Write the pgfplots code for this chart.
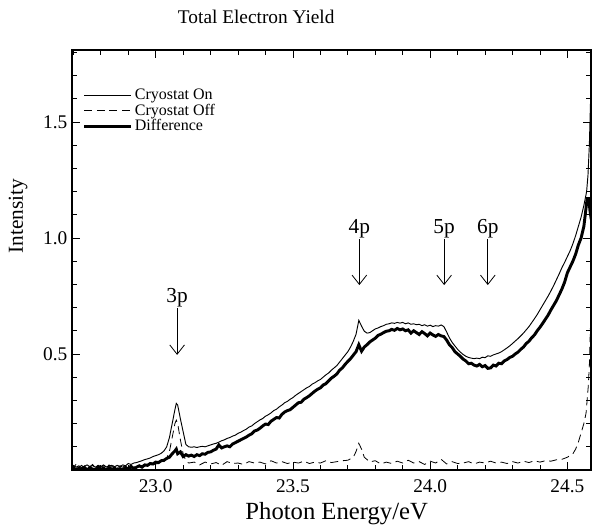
\documentclass[border=0pt]{standalone}
\usepackage{fontspec}
\setmainfont{Liberation Serif}
\usepackage{pgfplots}
\pgfplotsset{compat=1.18}
\usetikzlibrary{arrows.meta}

\begin{document}
\begin{tikzpicture}
\begin{axis}[
    scale only axis,
    width=389.25pt, height=315pt,
    xmin=22.695, xmax=24.586,
    ymin=0, ymax=1.81,
    axis line style={line width=0.9pt},
    tick align=inside,
    xtick={23,23.5,24,24.5},
    xticklabels={23.0,23.5,24.0,24.5},
    ytick={0.5,1,1.5},
    yticklabels={0.5,1.0,1.5},
    minor xtick={22.7,22.8,22.9,23.1,23.2,23.3,23.4,23.6,23.7,23.8,23.9,24.1,24.2,24.3,24.4},
    minor ytick={0.1,0.2,0.3,0.4,0.6,0.7,0.8,0.9,1.1,1.2,1.3,1.4,1.6,1.7,1.8},
    major tick length=6pt, minor tick length=3.5pt,
    every tick/.style={black, line width=0.6pt},
    ticklabel style={font=\fontsize{14.5}{16}\selectfont},
    xticklabel style={yshift=-3.5pt},
    every axis title shift=0pt,
    title={Total Electron Yield},
    title style={font=\fontsize{14.5}{17}\selectfont, at={(axis description cs:0.355,1.062)}, anchor=base},
    xlabel={Photon Energy/eV},
    xlabel style={font=\fontsize{18.5}{21}\selectfont, at={(axis description cs:0.51,-0.119)}, anchor=base},
    ylabel={Intensity},
    ylabel style={font=\fontsize{16}{19}\selectfont, at={(axis description cs:-0.104,0.605)}, anchor=center},
    legend style={at={(axis description cs:0.02,0.914)}, anchor=north west, draw=none, fill=none,
        font=\fontsize{12}{13}\selectfont, row sep=-2.3pt, inner sep=0pt},
    legend cell align=left,
    legend image code/.code={\draw[#1] (0pt,0pt) -- (35pt,0pt);},
]

% Cryostat On
\addplot[black, line width=0.7pt] coordinates {
(22.69,0.015) (22.70,0.020) (22.71,0.012) (22.72,0.018) (22.73,0.010) (22.74,0.016)
(22.75,0.022) (22.76,0.014) (22.77,0.019) (22.78,0.012) (22.79,0.020) (22.80,0.015)
(22.81,0.022) (22.82,0.013) (22.83,0.018) (22.84,0.020) (22.85,0.014) (22.86,0.020)
(22.87,0.015) (22.88,0.022) (22.89,0.018) (22.90,0.028) (22.91,0.024) (22.92,0.030)
(22.93,0.032) (22.94,0.036) (22.95,0.040) (22.96,0.045) (22.97,0.048) (22.98,0.052)
(22.99,0.058) (23.00,0.062) (23.01,0.066) (23.02,0.072) (23.03,0.082) (23.04,0.100)
(23.05,0.140) (23.06,0.200) (23.07,0.260) (23.075,0.287) (23.08,0.280) (23.09,0.220)
(23.10,0.165) (23.11,0.110) (23.12,0.100) (23.13,0.098) (23.14,0.100) (23.15,0.097)
(23.16,0.100) (23.17,0.102) (23.18,0.100) (23.19,0.104) (23.20,0.108) (23.21,0.112)
(23.22,0.115) (23.23,0.120) (23.24,0.126) (23.25,0.130) (23.26,0.136) (23.27,0.140)
(23.28,0.146) (23.29,0.150) (23.30,0.158) (23.31,0.163) (23.32,0.170) (23.33,0.176)
(23.34,0.185) (23.35,0.190) (23.36,0.200) (23.37,0.208) (23.38,0.216) (23.39,0.222)
(23.40,0.232) (23.41,0.238) (23.42,0.246) (23.43,0.256) (23.44,0.262) (23.45,0.272)
(23.46,0.280) (23.47,0.290) (23.48,0.296) (23.49,0.305) (23.50,0.312) (23.51,0.322)
(23.52,0.330) (23.53,0.338) (23.54,0.346) (23.55,0.354) (23.56,0.360) (23.57,0.370)
(23.58,0.376) (23.59,0.384) (23.60,0.390) (23.61,0.400) (23.62,0.410) (23.63,0.418)
(23.64,0.430) (23.65,0.440) (23.66,0.450) (23.67,0.465) (23.68,0.480) (23.69,0.495)
(23.70,0.510) (23.71,0.530) (23.72,0.555) (23.73,0.585) (23.74,0.645) (23.75,0.620)
(23.76,0.598) (23.77,0.590) (23.78,0.592) (23.79,0.600) (23.80,0.608) (23.81,0.612)
(23.82,0.618) (23.83,0.622) (23.84,0.628) (23.85,0.630) (23.86,0.634) (23.87,0.632)
(23.88,0.636) (23.89,0.633) (23.90,0.636) (23.91,0.630) (23.92,0.634) (23.93,0.628)
(23.94,0.630) (23.95,0.626) (23.96,0.628) (23.97,0.622) (23.98,0.626) (23.99,0.620)
(24.00,0.624) (24.01,0.618) (24.02,0.622) (24.03,0.620) (24.04,0.625) (24.05,0.618)
(24.06,0.595) (24.07,0.570) (24.08,0.550) (24.09,0.535) (24.10,0.520) (24.11,0.508)
(24.12,0.498) (24.13,0.490) (24.14,0.485) (24.15,0.482) (24.16,0.480) (24.17,0.482)
(24.18,0.480) (24.19,0.486) (24.20,0.484) (24.21,0.492) (24.22,0.490) (24.23,0.496)
(24.24,0.500) (24.25,0.504) (24.26,0.510) (24.27,0.518) (24.28,0.526) (24.29,0.535)
(24.30,0.545) (24.31,0.556) (24.32,0.566) (24.33,0.578) (24.34,0.590) (24.35,0.604)
(24.36,0.618) (24.37,0.635) (24.38,0.652) (24.39,0.670) (24.40,0.690) (24.41,0.710)
(24.42,0.730) (24.43,0.750) (24.44,0.772) (24.45,0.795) (24.46,0.820) (24.47,0.845)
(24.48,0.872) (24.49,0.895) (24.50,0.920) (24.51,0.945) (24.52,0.975) (24.53,1.010)
(24.54,1.050) (24.55,1.090) (24.56,1.140) (24.57,1.200) (24.575,1.270) (24.58,1.400)
(24.585,1.620) (24.59,1.850)
};
\addlegendentry{Cryostat On}

% Cryostat Off
\addplot[black, line width=0.6pt, dash pattern=on 6pt off 3.5pt] coordinates {
(22.69,0.020) (22.70,0.010) (22.71,0.025) (22.72,0.012) (22.73,0.020) (22.74,0.008)
(22.75,0.022) (22.76,0.014) (22.77,0.024) (22.78,0.010) (22.79,0.020) (22.80,0.012)
(22.81,0.018) (22.82,0.008) (22.83,0.022) (22.84,0.012) (22.85,0.020) (22.86,0.010)
(22.87,0.018) (22.88,0.012) (22.89,0.022) (22.90,0.015) (22.91,0.020) (22.92,0.012)
(22.93,0.018) (22.94,0.014) (22.95,0.020) (22.96,0.018) (22.97,0.022) (22.98,0.020)
(22.99,0.024) (23.00,0.026) (23.01,0.028) (23.02,0.030) (23.03,0.036) (23.04,0.050)
(23.05,0.080) (23.06,0.140) (23.07,0.200) (23.075,0.215) (23.08,0.200) (23.09,0.130)
(23.10,0.070) (23.11,0.040) (23.12,0.030) (23.14,0.034) (23.16,0.022) (23.18,0.034)
(23.20,0.026) (23.22,0.032) (23.24,0.020) (23.26,0.036) (23.28,0.028) (23.30,0.030)
(23.32,0.024) (23.34,0.036) (23.36,0.030) (23.38,0.034) (23.40,0.026) (23.42,0.040)
(23.44,0.030) (23.46,0.036) (23.48,0.028) (23.50,0.034) (23.52,0.030) (23.54,0.038)
(23.56,0.028) (23.58,0.034) (23.60,0.030) (23.62,0.040) (23.64,0.032) (23.66,0.036)
(23.68,0.040) (23.70,0.042) (23.72,0.055) (23.73,0.080) (23.74,0.115) (23.75,0.090)
(23.76,0.055) (23.78,0.035) (23.80,0.040) (23.82,0.026) (23.84,0.034) (23.86,0.028)
(23.88,0.038) (23.90,0.030) (23.92,0.042) (23.94,0.030) (23.96,0.036) (23.98,0.024)
(24.00,0.038) (24.02,0.030) (24.04,0.046) (24.06,0.026) (24.08,0.036) (24.10,0.028)
(24.12,0.030) (24.14,0.036) (24.16,0.026) (24.18,0.034) (24.20,0.030) (24.22,0.038)
(24.24,0.030) (24.26,0.034) (24.28,0.028) (24.30,0.036) (24.32,0.030) (24.34,0.038)
(24.36,0.032) (24.38,0.040) (24.40,0.034) (24.42,0.040) (24.44,0.038) (24.46,0.044)
(24.48,0.046) (24.50,0.055) (24.52,0.070) (24.53,0.090) (24.54,0.120) (24.55,0.160)
(24.56,0.200) (24.568,0.245) (24.576,0.360) (24.58,0.450) (24.584,0.620) (24.588,0.750)
};
\addlegendentry{Cryostat Off}

% Difference
\addplot[black, line width=2.2pt] coordinates {
(22.69,0.005) (22.70,0.010) (22.71,0.000) (22.72,0.008) (22.73,0.002) (22.74,0.012)
(22.75,0.000) (22.76,0.010) (22.77,0.004) (22.78,0.000) (22.79,0.012) (22.80,0.003)
(22.81,0.008) (22.82,0.000) (22.83,0.010) (22.84,0.002) (22.85,0.008) (22.86,0.000)
(22.87,0.006) (22.88,0.000) (22.89,0.012) (22.90,0.002) (22.91,0.015) (22.92,0.004)
(22.93,0.012) (22.94,0.018) (22.95,0.012) (22.96,0.022) (22.97,0.020) (22.98,0.028)
(22.99,0.026) (23.00,0.034) (23.01,0.032) (23.02,0.040) (23.03,0.042) (23.04,0.050)
(23.05,0.055) (23.06,0.070) (23.07,0.082) (23.075,0.090) (23.08,0.070) (23.09,0.078)
(23.10,0.058) (23.11,0.066) (23.12,0.060) (23.13,0.064) (23.14,0.058) (23.15,0.066)
(23.16,0.062) (23.17,0.070) (23.18,0.068) (23.19,0.076) (23.20,0.078) (23.21,0.085)
(23.22,0.090) (23.23,0.108) (23.24,0.095) (23.25,0.100) (23.26,0.104) (23.27,0.100)
(23.28,0.112) (23.29,0.118) (23.30,0.124) (23.31,0.130) (23.32,0.136) (23.33,0.142)
(23.34,0.150) (23.35,0.156) (23.36,0.168) (23.37,0.172) (23.38,0.180) (23.39,0.190)
(23.40,0.198) (23.41,0.196) (23.42,0.210) (23.43,0.218) (23.44,0.226) (23.45,0.224)
(23.46,0.240) (23.47,0.250) (23.48,0.256) (23.49,0.260) (23.50,0.270) (23.51,0.280)
(23.52,0.290) (23.53,0.292) (23.54,0.305) (23.55,0.312) (23.56,0.320) (23.57,0.330)
(23.58,0.340) (23.59,0.348) (23.60,0.354) (23.61,0.366) (23.62,0.372) (23.63,0.384)
(23.64,0.396) (23.65,0.404) (23.66,0.414) (23.67,0.430) (23.68,0.440) (23.69,0.455)
(23.70,0.468) (23.71,0.480) (23.72,0.495) (23.73,0.510) (23.74,0.540) (23.75,0.512)
(23.76,0.530) (23.77,0.540) (23.78,0.552) (23.79,0.560) (23.80,0.568) (23.81,0.580)
(23.82,0.585) (23.83,0.592) (23.84,0.598) (23.85,0.600) (23.86,0.606) (23.87,0.602)
(23.88,0.610) (23.89,0.604) (23.90,0.608) (23.91,0.600) (23.92,0.604) (23.93,0.590)
(23.94,0.600) (23.95,0.592) (23.96,0.584) (23.97,0.596) (23.98,0.588) (23.99,0.578)
(24.00,0.590) (24.01,0.582) (24.02,0.576) (24.03,0.584) (24.04,0.578) (24.05,0.575)
(24.06,0.560) (24.07,0.540) (24.08,0.528) (24.09,0.510) (24.10,0.500) (24.11,0.490)
(24.12,0.478) (24.13,0.470) (24.14,0.458) (24.15,0.460) (24.16,0.452) (24.17,0.448)
(24.18,0.455) (24.19,0.445) (24.20,0.450) (24.21,0.438) (24.22,0.440) (24.23,0.452)
(24.24,0.448) (24.25,0.460) (24.26,0.458) (24.27,0.470) (24.28,0.476) (24.29,0.485)
(24.30,0.490) (24.31,0.500) (24.32,0.508) (24.33,0.520) (24.34,0.530) (24.35,0.545)
(24.36,0.555) (24.37,0.570) (24.38,0.582) (24.39,0.600) (24.40,0.615) (24.41,0.632)
(24.42,0.650) (24.43,0.668) (24.44,0.690) (24.45,0.710) (24.46,0.730) (24.47,0.755)
(24.48,0.780) (24.49,0.810) (24.50,0.850) (24.51,0.875) (24.52,0.900) (24.53,0.930)
(24.54,0.970) (24.55,1.000) (24.56,1.050) (24.565,1.100) (24.572,1.170) (24.578,1.170)
(24.582,1.120) (24.587,1.080)
};
\addlegendentry{Difference}

% peak markers
\draw[line width=0.6pt, -{Straight Barb[length=7pt,width=11pt,line width=0.6pt]}]
    (axis cs:23.078,0.698) -- (axis cs:23.078,0.496);
\node[anchor=base, font=\fontsize{16}{18}\selectfont] at (axis cs:23.078,0.724) {3p};
\draw[line width=0.6pt, -{Straight Barb[length=7pt,width=11pt,line width=0.6pt]}]
    (axis cs:23.742,0.994) -- (axis cs:23.742,0.797);
\node[anchor=base, font=\fontsize{16}{18}\selectfont] at (axis cs:23.742,1.02) {4p};
\draw[line width=0.6pt, -{Straight Barb[length=7pt,width=11pt,line width=0.6pt]}]
    (axis cs:24.051,0.994) -- (axis cs:24.051,0.797);
\node[anchor=base, font=\fontsize{16}{18}\selectfont] at (axis cs:24.051,1.02) {5p};
\draw[line width=0.6pt, -{Straight Barb[length=7pt,width=11pt,line width=0.6pt]}]
    (axis cs:24.21,0.994) -- (axis cs:24.21,0.797);
\node[anchor=base, font=\fontsize{16}{18}\selectfont] at (axis cs:24.21,1.02) {6p};
\end{axis}
\path (current axis.south west) ++(-54pt,-41.25pt) coordinate (bl);
\path (current axis.north east) ++(1.5pt,37.5pt) coordinate (tr);
\pgfresetboundingbox
\path[use as bounding box] (bl) rectangle (tr);
\end{tikzpicture}
\end{document}
